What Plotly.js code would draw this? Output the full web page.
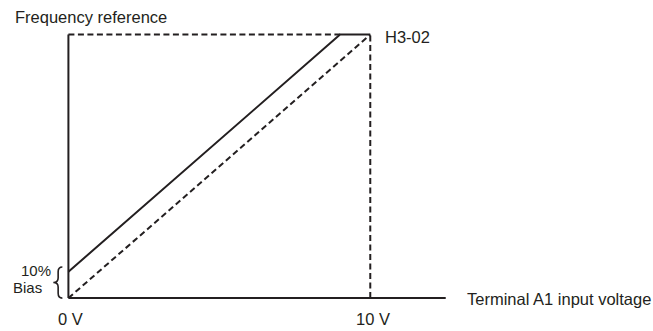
<!DOCTYPE html>
<html>
<head>
<meta charset="utf-8">
<script src="https://cdn.plot.ly/plotly-3.0.1.min.js"></script>
<style>html,body{margin:0;padding:0;background:#fff;}#chart{width:653px;height:331px;}</style>
</head>
<body>
<div id="chart"></div>
<script>
// Terminal A1 input voltage (V) and frequency reference (%)
const biasX = [0, 9, 10];          // solid: with 10% bias
const biasY = [10, 100, 100];
const noBiasX = [0, 10];           // dashed: no bias
const noBiasY = [0, 100];
const topRefX = [0, 9];            // dashed upper reference (H3-02 level)
const topRefY = [100, 100];
const tenVX = [10, 10];            // dashed drop at 10 V
const tenVY = [0, 100];
const xAxisX = [0, 12.5];
const xAxisY = [0, 0];
const yAxisX = [0, 0];
const yAxisY = [0, 100];
const tickVals = [0, 10];
const tickLabels = ["0 V", "10 V"];

const FONT = "Liberation Sans, Arial, Helvetica, sans-serif";
const INK = "#231f20";
const FS = 16.5;
const dash = "6px,3.5px";

const traces = [
  {x: xAxisX, y: xAxisY, mode: "lines", line: {color: INK, width: 2}},
  {x: yAxisX, y: yAxisY, mode: "lines", line: {color: INK, width: 2}},
  {x: topRefX, y: topRefY, mode: "lines", line: {color: INK, width: 2, dash: dash}},
  {x: tenVX, y: tenVY, mode: "lines", line: {color: INK, width: 2, dash: dash}},
  {x: noBiasX, y: noBiasY, mode: "lines", line: {color: INK, width: 2, dash: dash}},
  {x: biasX, y: biasY, mode: "lines", line: {color: INK, width: 2}}
].map(t => Object.assign({showlegend: false, hoverinfo: "skip", cliponaxis: false}, t));

const ann = (text, x, y, xanchor, extra) => Object.assign({text, x, y, xref: "x", yref: "y", xanchor, yanchor: "middle",
  showarrow: false, font: {family: FONT, size: FS, color: INK}}, extra || {});

const tickAnns = tickVals.map((v, i) => ann(tickLabels[i], v, 0, "center", {xshift: 2.5, yshift: -21}));
const small = {borderpad: 0, font: {family: FONT, size: 15, color: INK}};

const layout = {
  width: 653, height: 331,
  margin: {l: 2, r: 2, t: 3, b: 25},
  paper_bgcolor: "#fff", plot_bgcolor: "#fff",
  showlegend: false,
  xaxis: {range: [-2.2, 19.3], showgrid: false, zeroline: false, showline: false,
    showticklabels: false, ticks: "", fixedrange: true},
  yaxis: {range: [-3, 112], showgrid: false, zeroline: false, showline: false,
    showticklabels: false, ticks: "", fixedrange: true},
  annotations: [
    ann("Frequency reference", -1.82, 106.6, "left"),
    ann("H3-02", 10.43, 99.0, "left"),
    ann("Terminal A1 input voltage", 13.15, -0.3, "left"),
    ann("10%", -0.53, 10.5, "right", small),
    ann("Bias", -0.83, 3.9, "right", small)
  ].concat(tickAnns),
  shapes: [{
    type: "path", xref: "x", yref: "y",
    path: "M -0.2,11.8 Q -0.34,11.8 -0.34,10 L -0.34,7.6 Q -0.34,5.9 -0.5,5.9 Q -0.34,5.9 -0.34,4.2 L -0.34,1.8 Q -0.34,0 -0.2,0",
    line: {color: INK, width: 1.6}
  }]
};

Plotly.newPlot("chart", traces, layout, {displayModeBar: false, staticPlot: true});
</script>
</body>
</html>
